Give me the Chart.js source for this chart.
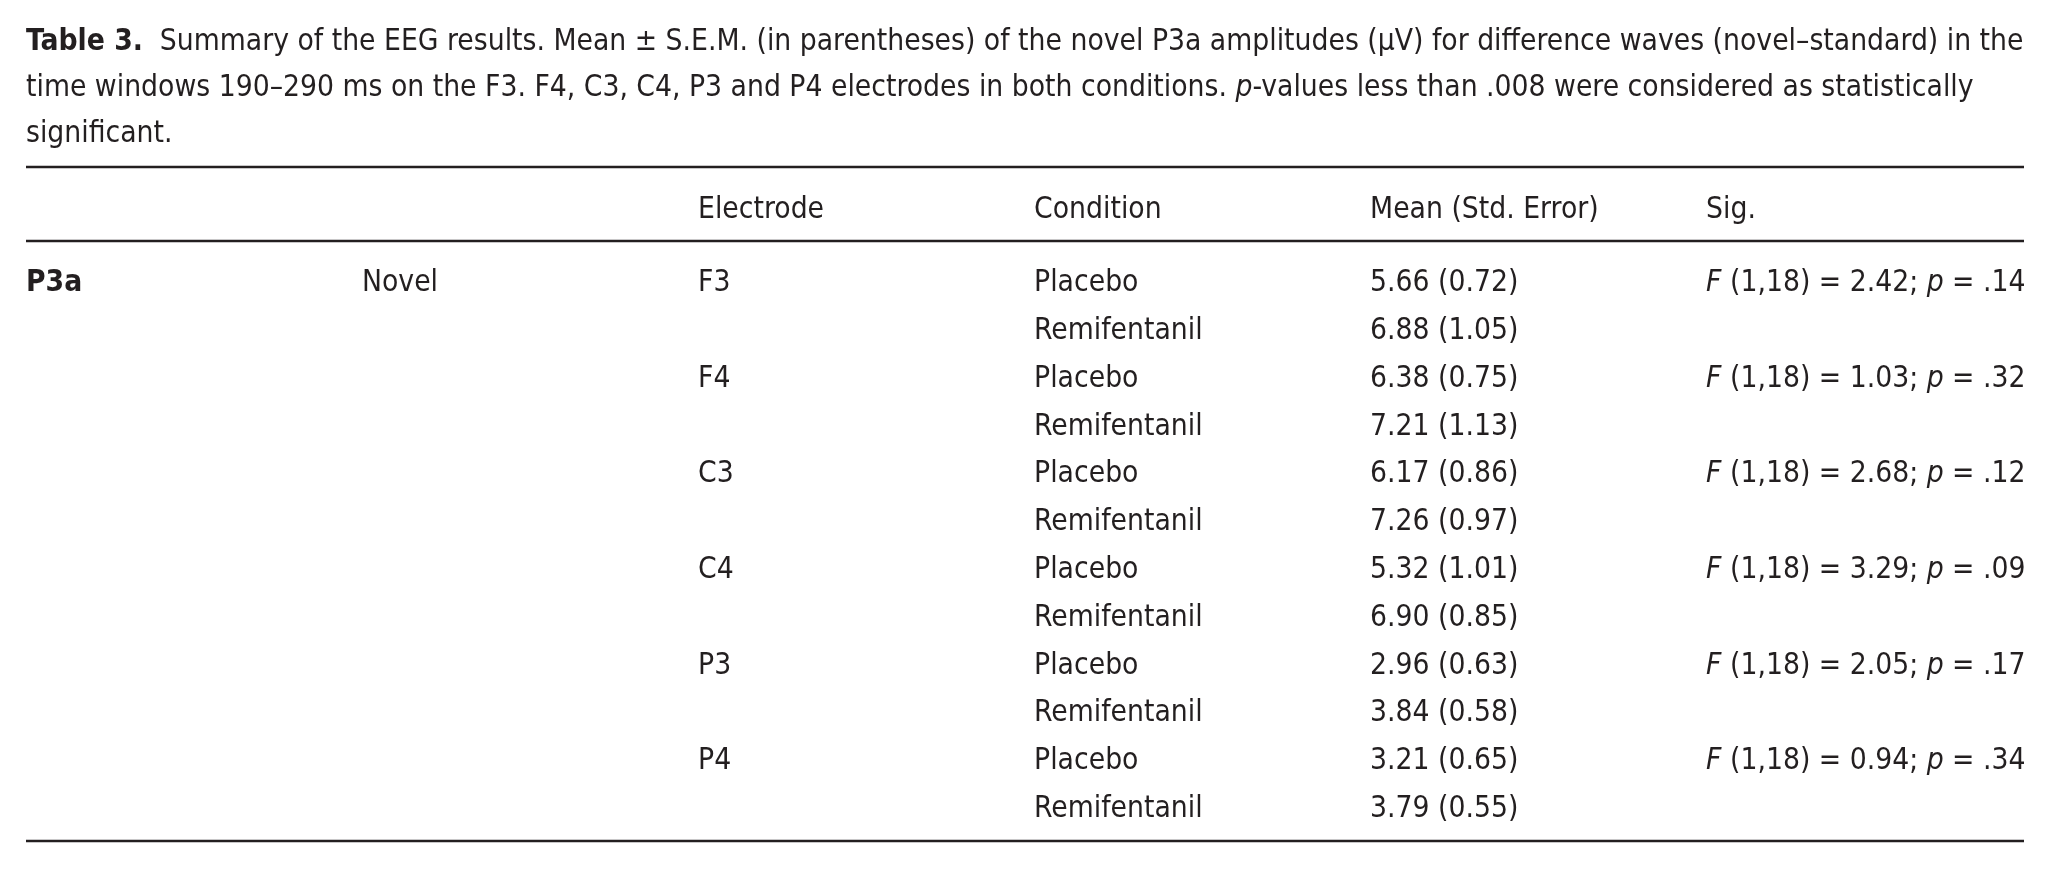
<!DOCTYPE html>
<html>
<head>
<meta charset="utf-8">
<title>Table 3. Summary of the EEG results</title>
<script src="https://cdn.jsdelivr.net/npm/chart.js@4.4.1/dist/chart.umd.min.js"></script>
<style>
  html, body { margin: 0; padding: 0; background: #fff; }
  canvas { display: block; }
</style>
</head>
<body>
<canvas id="tableChart" width="2065" height="869"></canvas>
<script>
var electrodes = ['F3', 'F4', 'C3', 'C4', 'P3', 'P4'];
var conditions = ['Placebo', 'Remifentanil'];
var placeboMean = [5.66, 6.38, 6.17, 5.32, 2.96, 3.21];
var placeboSem = [0.72, 0.75, 0.86, 1.01, 0.63, 0.65];
var remiMean = [6.88, 7.21, 7.26, 6.90, 3.84, 3.79];
var remiSem = [1.05, 1.13, 0.97, 0.85, 0.58, 0.55];
var fValues = [2.42, 1.03, 2.68, 3.29, 2.05, 0.94];
var pValues = [0.14, 0.32, 0.12, 0.09, 0.17, 0.34];
var dfLabel = '(1,18)';
var headers = ['Electrode', 'Condition', 'Mean (Std. Error)', 'Sig.'];
var groupLabel = 'P3a';
var stimulusLabel = 'Novel';

var captionLines = [
  [{ t: 'Table 3.', b: true }, { t: '  Summary of the EEG results. Mean \u00b1 S.E.M. (in parentheses) of the novel P3a amplitudes (\u03bcV) for difference waves (novel\u2013standard) in the' }],
  [{ t: 'time windows 190\u2013290 ms on the F3. F4, C3, C4, P3 and P4 electrodes in both conditions. ' }, { t: 'p', i: true }, { t: '-values less than .008 were considered as statistically' }],
  [{ t: 'significant.' }]
];

// row positions on the y scale (row units, data rows are 0..11)
var TOP_RULE = -2.374;
var HEADER_ROW = -1.538;
var HEADER_RULE = -0.826;
var BOTTOM_RULE = 11.726;
var LAST_COLUMN = 5.946;

var ink = '#231f20';

function pickFont() {
  var c = document.createElement('canvas').getContext('2d');
  var names = ['Liberation Sans Narrow', 'DejaVu Sans Condensed'];
  c.font = '40px monospace';
  var base = c.measureText('abcdefghijklmnopqrstuvwxyz').width;
  for (var i = 0; i < names.length; i++) {
    c.font = '40px "' + names[i] + '", monospace';
    if (c.measureText('abcdefghijklmnopqrstuvwxyz').width !== base) return names[i];
  }
  return 'Liberation Sans';
}
var fontName = pickFont();
var fontSize = 29;

function fontFor(run) {
  return (run.i ? 'italic ' : '') + (run.b ? 'bold ' : '') + fontSize + 'px "' + fontName + '", sans-serif';
}

function runsWidth(ctx, runs) {
  var w = 0;
  runs.forEach(function(r) { ctx.font = fontFor(r); w += ctx.measureText(r.t).width; });
  return w;
}

function drawRuns(ctx, runs, x, y) {
  runs.forEach(function(r) {
    ctx.font = fontFor(r);
    ctx.fillText(r.t, x, y);
    x += ctx.measureText(r.t).width;
  });
}

function fmtP(p) {
  return p.toFixed(2).replace(/^0/, '');
}

// build the cell datasets: one per column
var colGroup = { data: [{ x: 0, y: 0 }], cellRuns: [[{ t: groupLabel, b: true }]] };
var colStim = { data: [{ x: 1, y: 0 }], cellRuns: [[{ t: stimulusLabel }]] };
var colElec = { data: [], cellRuns: [] };
var colCond = { data: [], cellRuns: [] };
var colMean = { data: [], cellRuns: [] };
var colSig = { data: [], cellRuns: [] };
var colHead = { data: [], cellRuns: [] };

headers.forEach(function(h, i) {
  colHead.data.push({ x: i + 2, y: HEADER_ROW });
  colHead.cellRuns.push([{ t: h }]);
});

electrodes.forEach(function(e, i) {
  var r = i * 2;
  colElec.data.push({ x: 2, y: r });
  colElec.cellRuns.push([{ t: e }]);

  colCond.data.push({ x: 3, y: r }, { x: 3, y: r + 1 });
  colCond.cellRuns.push([{ t: conditions[0] }], [{ t: conditions[1] }]);

  colMean.data.push({ x: 4, y: r }, { x: 4, y: r + 1 });
  colMean.cellRuns.push(
    [{ t: placeboMean[i].toFixed(2) + ' (' + placeboSem[i].toFixed(2) + ')' }],
    [{ t: remiMean[i].toFixed(2) + ' (' + remiSem[i].toFixed(2) + ')' }]
  );

  colSig.data.push({ x: 5, y: r });
  colSig.cellRuns.push([
    { t: 'F', i: true },
    { t: ' ' + dfLabel + ' = ' + fValues[i].toFixed(2) + '; ' },
    { t: 'p', i: true },
    { t: ' = ' + fmtP(pValues[i]) }
  ]);
});

var cellColumns = [colHead, colGroup, colStim, colElec, colCond, colMean, colSig];

var tablePlugin = {
  id: 'tablePlugin',
  beforeDraw: function(chart) {
    var ctx = chart.ctx;
    var area = chart.chartArea;
    ctx.save();
    ctx.fillStyle = '#fff';
    ctx.fillRect(0, 0, chart.width, chart.height);

    // caption line 1 runs the full width of the rules
    fontSize = 29;
    var w = runsWidth(ctx, captionLines[0]);
    fontSize = 29 * (area.right - area.left) / w;

    ctx.fillStyle = ink;
    ctx.textBaseline = 'alphabetic';
    var capH = fontSize * 0.36;
    var lineH = 46.1;
    captionLines.forEach(function(line, i) {
      var cy = area.top - 35.3 - (captionLines.length - 1 - i) * lineH;
      drawRuns(ctx, line, area.left, cy + capH);
    });

    // rules
    var ys = chart.scales.y;
    var xs = chart.scales.x;
    ctx.strokeStyle = ink;
    ctx.lineWidth = 2.6;
    [TOP_RULE, HEADER_RULE, BOTTOM_RULE].forEach(function(v) {
      var y = Math.round(ys.getPixelForValue(v));
      ctx.beginPath();
      ctx.moveTo(xs.getPixelForValue(0), y);
      ctx.lineTo(xs.getPixelForValue(LAST_COLUMN), y);
      ctx.stroke();
    });
    ctx.restore();
  },
  afterDatasetsDraw: function(chart) {
    var ctx = chart.ctx;
    ctx.save();
    ctx.fillStyle = ink;
    ctx.textBaseline = 'alphabetic';
    var capH = fontSize * 0.36;
    chart.data.datasets.forEach(function(ds, i) {
      var meta = chart.getDatasetMeta(i);
      meta.data.forEach(function(pt, j) {
        drawRuns(ctx, ds.cellRuns[j], pt.x, pt.y + capH);
      });
    });
    ctx.restore();
  }
};

var chart = new Chart(document.getElementById('tableChart'), {
  type: 'scatter',
  data: {
    datasets: cellColumns.map(function(c) {
      return {
        data: c.data,
        cellRuns: c.cellRuns,
        pointRadius: 0,
        pointHoverRadius: 0,
        showLine: false
      };
    })
  },
  options: {
    responsive: false,
    animation: false,
    devicePixelRatio: 1,
    events: [],
    layout: { padding: { left: 26, right: 41, top: 167, bottom: 28 } },
    scales: {
      x: { type: 'linear', min: 0, max: LAST_COLUMN, display: false },
      y: { type: 'linear', min: TOP_RULE, max: BOTTOM_RULE, reverse: true, display: false }
    },
    plugins: {
      legend: { display: false },
      tooltip: { enabled: false }
    }
  },
  plugins: [tablePlugin]
});
</script>
</body>
</html>
